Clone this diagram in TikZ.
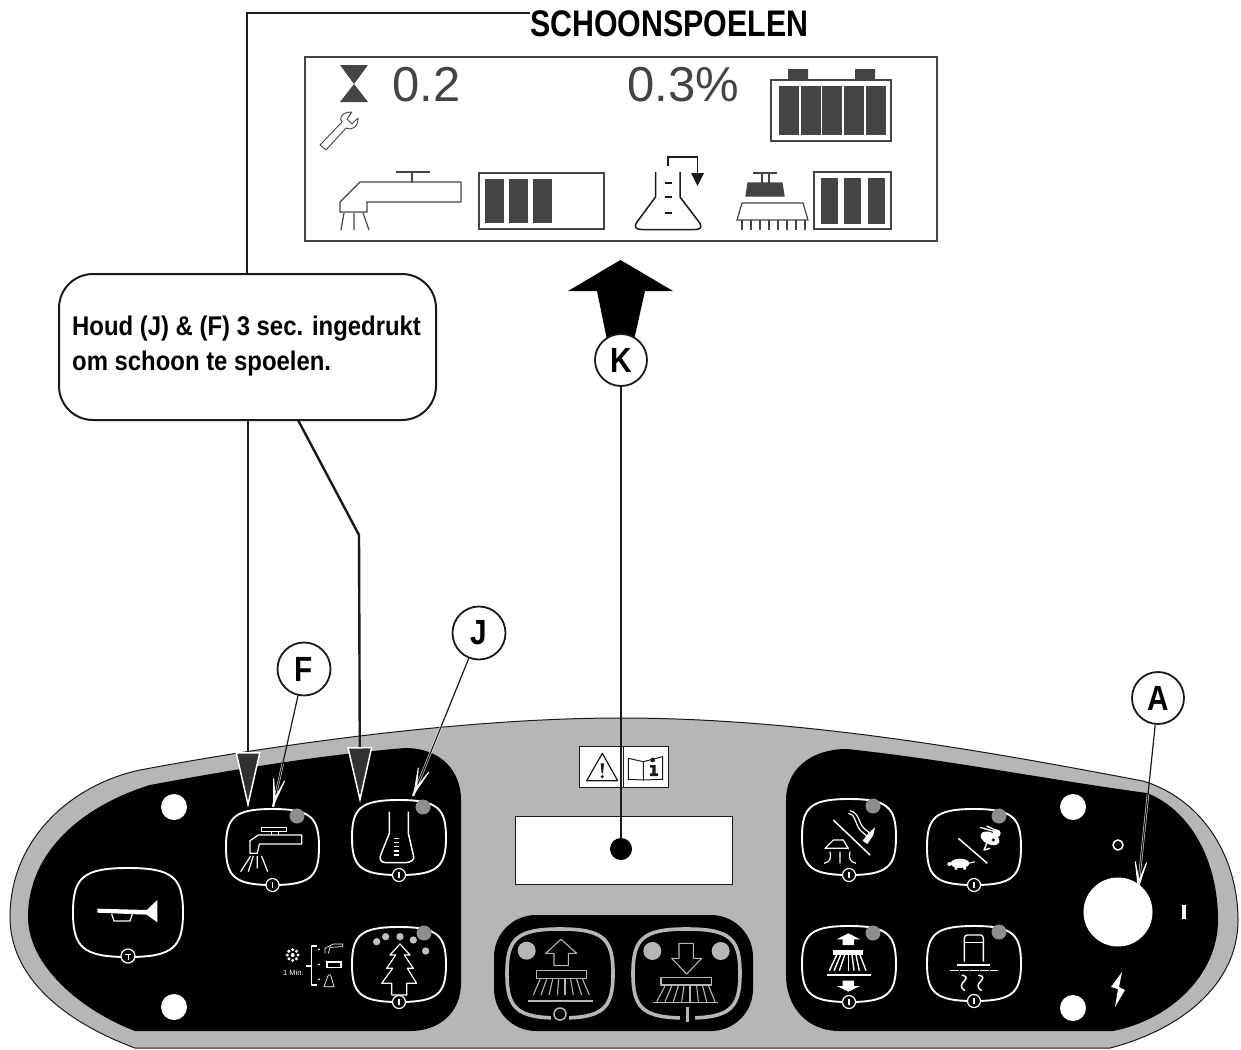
\documentclass[tikz,border=0pt]{standalone}
\usepackage{fontspec}
\setmainfont{Liberation Sans}
\newfontfamily\narrowfont[BoldFeatures={FakeStretch=0.82}]{Liberation Sans}
\newfontfamily\calloutfont[BoldFeatures={FakeStretch=0.885}]{Liberation Sans}
\newfontfamily\letterfont[BoldFeatures={FakeStretch=0.85}]{Liberation Sans}
\usetikzlibrary{arrows.meta,calc}
\definecolor{panelgray}{HTML}{B6B6B6}
\definecolor{ledgray}{HTML}{8E8E8E}
\definecolor{lcd}{HTML}{444444}
\definecolor{ink}{HTML}{1A1A1A}
\tikzset{
  conn/.style={draw=ink,line width=2.4pt},
  bigtip/.style={-{Triangle[length=56pt,width=25pt,fill=ink!90,color=white,line width=1.5pt]}},
  halo/.style={draw=white,line width=2.4pt,opacity=.85},
  leader/.style={draw=ink,line width=1.2pt},
  opentip/.style={-{Stealth[length=41pt,width=18pt,inset=30pt,open,color=white,line width=1pt]}},
  letter/.style={circle,draw=ink,fill=white,line width=1.8pt,minimum size=53pt,inner sep=0pt,font=\letterfont\bfseries\fontsize{35}{35}\selectfont},
  ico/.style={draw=white,line width=1.2pt,line join=round},
  lcdl/.style={draw=lcd,line width=1.2pt},
  readout/.style={inner sep=0pt,text=lcd,font=\fontsize{49}{49}\selectfont},
}
% squircle button: x1 y1 x2 y2, colour, width
\newcommand{\squircle}[6]{%
  \pgfmathsetmacro{\cxx}{(#1+#3)/2}\pgfmathsetmacro{\cyy}{(#2+#4)/2}%
  \pgfmathsetmacro{\wxx}{#3-#1}\pgfmathsetmacro{\hyy}{#4-#2}%
  \draw[draw=#5,line width=#6]
    (\cxx,#2) .. controls (#3-0.09*\wxx,#2) and (#3,#2+0.11*\hyy) .. (#3,\cyy)
    .. controls (#3,#4-0.11*\hyy) and (#3-0.09*\wxx,#4) .. (\cxx,#4)
    .. controls (#1+0.09*\wxx,#4) and (#1,#4-0.11*\hyy) .. (#1,\cyy)
    .. controls (#1,#2+0.11*\hyy) and (#1+0.09*\wxx,#2) .. (\cxx,#2) -- cycle;}
% button with LED: x1 y1 x2 y2 ledx ledy
\newcommand{\btnled}[6]{%
  \squircle{#1}{#2}{#3}{#4}{white}{1.9pt}%
  \pgfmathsetmacro{\cxx}{(#1+#3)/2}%
  \fill[ledgray] (#5,#6) circle (7.5);
  \draw[white,fill=black,line width=1.2pt] (\cxx,#4) circle (6.5);
  \draw[white,line width=1.2pt] (\cxx,#4-3) -- (\cxx,#4+3);}
\begin{document}
\begin{tikzpicture}[x=1pt,y=-1pt]
\useasboundingbox (0,0) rectangle (1241,1049);
\fill[white] (0,0) rectangle (1241,1049);

% ---------- panel
\draw[fill=panelgray,draw=ink,line width=1pt]
  (135,1048) .. controls (60,1020) and (10,975) .. (10,917)
  .. controls (10,840) and (70,785) .. (140,770)
  .. controls (300,740) and (480,718) .. (620,718)
  .. controls (800,718) and (980,750) .. (1143,781)
  .. controls (1205,800) and (1238,860) .. (1238,920)
  .. controls (1238,985) and (1180,1030) .. (1110,1048) -- cycle;
% black regions
\fill[black]
  (135,1031) .. controls (80,1010) and (28,965) .. (28,917)
  .. controls (28,850) and (85,805) .. (150,785)
  .. controls (230,770) and (320,755) .. (405,748)
  .. controls (440,748) and (461,770) .. (461,800)
  -- (461,983) .. controls (461,1012) and (440,1031) .. (410,1031) -- cycle;
\fill[black]
  (786,800) .. controls (786,770) and (810,749) .. (847,749)
  .. controls (950,760) and (1050,780) .. (1147,793)
  .. controls (1190,810) and (1218,860) .. (1218,920)
  .. controls (1218,975) and (1170,1020) .. (1113,1031)
  -- (840,1031) .. controls (805,1031) and (786,1005) .. (786,975) -- cycle;
\fill[black,rounded corners=42] (494,915) rectangle (753,1031);

% screw holes and key switch
\foreach \hx/\hy in {174/807,174/1007,1073/807,1073/1008} \fill[white] (\hx,\hy) circle (13);
\fill[white] (1118,912) circle (34.5);
\draw[white,line width=1.5pt] (1118,845) circle (5);
\fill[white] (1182,905) rectangle (1186,919);
\fill[white] (1122,972) -- (1111,987) -- (1118,989) -- (1115,1007) -- (1125,990) -- (1119,987) -- cycle;

% warning pictogram and display window
\begin{scope}[shift={(480,720)},scale=1/3]
  \draw[fill=white,draw=ink,line width=1pt] (298,80) rectangle (565,203);
  \draw[draw=ink,line width=1pt] (430,80) -- (430,203);
  \draw[ink,line width=1.2pt,line join=round] (320,182) -- (367,100) -- (413,182) -- cycle;
  \fill[ink] (362,130) -- (372,130) -- (369,160) -- (365,160) -- cycle;
  \fill[ink] (367,170) circle (5);
  \draw[ink,line width=1pt] (445,115) -- (490,125) -- (490,180) -- (445,178) -- cycle;
  \draw[ink,line width=1pt] (490,125) -- (548,110) -- (548,178) -- (490,180);
  \fill[ink] (518,120) circle (7);
  \fill[ink] (510,135) -- (527,135) -- (527,160) -- (534,160) -- (534,168) -- (510,168) -- (510,160) -- (517,160) -- (517,143) -- (510,143) -- cycle;
  \draw[fill=white,draw=ink,line width=1pt] (107,290) rectangle (757,493);
\end{scope}

% ---------- left buttons
\squircle{73}{868}{183}{957}{white}{1.9pt}
\draw[white,fill=black,line width=1.2pt] (128,956) circle (7);
\draw[white,line width=1pt] (125,954) -- (131,954) (128,954) -- (128,960);
\btnled{226}{809}{319}{885}{297}{816}
\btnled{352}{800}{446}{875}{423}{807}
\btnled{352}{927}{446}{1002}{424}{933}
\begin{scope}[shift={(0,720)},scale=1/3]
  % horn
  \fill[white] (292,566) -- (440,570) -- (472,540) -- (472,607) -- (440,584) -- (292,578) -- cycle;
  \draw[ico] (335,582) -- (342,603) -- (390,603) -- (397,582);
  % tap
  \draw[ico] (750,400) -- (750,362) -- (775,345) -- (905,345) -- (905,372) -- (778,372) -- (772,400) -- cycle;
  \draw[ico] (785,323) -- (860,323) -- (860,335) -- (785,335) -- cycle (815,335) -- (815,345) (835,335) -- (835,345);
  \draw[ico] (752,408) -- (722,455) (760,408) -- (745,455) (772,408) -- (772,445) (785,408) -- (803,455);
  % flask
  \draw[ico,line width=1.5pt] (1168,275) -- (1168,340) -- (1142,405) .. controls (1136,425) and (1150,428) .. (1160,428) -- (1210,428) .. controls (1235,428) and (1245,420) .. (1240,405) -- (1225,340) -- (1225,275);
  \foreach \ty in {355,368,380,393,405} \draw[ico] (1182,\ty) -- (1197,\ty);
  % tree
  \draw[ico] (1200,672) -- (1230,705) -- (1213,705) -- (1240,745) -- (1222,745) -- (1250,790) -- (1220,790) -- (1220,825) -- (1175,825) -- (1175,790) -- (1145,790) -- (1178,745) -- (1160,745) -- (1187,705) -- (1170,705) -- cycle;
  \foreach \dx/\dy in {1130/665,1157/650,1200/650,1240/660,1277/693} \fill[white!75!black] (\dx,\dy) circle (11);
  % pre-heat legend
  \foreach \a in {0,45,...,315} \fill[white] ($(878,705)+(\a:16)$) circle (5);
  \fill[white] (878,705) circle (6);
  \node (onemin) at (880,758) [inner sep=0pt,text=white,font=\fontsize{7.5}{8}\selectfont] {1 Min.};
  \draw[ico,line width=1.4pt] (950,678) -- (935,678) -- (935,795) -- (950,795) (918,738) -- (935,738);
  \draw[ico,line width=.7pt] (975,700) -- (975,685) -- (1000,672) -- (1028,672) -- (1028,680) -- (990,682) -- (985,700);
  \fill[white] (978,722) rectangle (1027,745);
  \fill[black] (984,730) rectangle (1021,740);
  \draw[ico,line width=.7pt] (985,765) -- (972,800) -- (1002,800) -- (992,765) -- cycle;
  \foreach \py in {688,733,778} \fill[white] (957,\py) circle (3);
\end{scope}

% ---------- centre buttons
\squircle{507}{929}{613}{1018}{panelgray}{3.6pt}
\squircle{633}{929}{740}{1018}{panelgray}{3.6pt}
\begin{scope}[shift={(480,720)},scale=1/3]
  \fill[black] (213,870) rectangle (267,900);
  \fill[black] (600,870) rectangle (645,910);
  \draw[panelgray,line width=1.5pt,fill=black] (240,882) circle (18);
  \draw[panelgray,line width=2.4pt] (622,860) -- (622,905);
  \foreach \lx/\ly in {140/692,517/693,722/693} \fill[panelgray] (\lx,\ly) circle (27);
  \tikzset{gl/.style={draw=panelgray,line width=1.1pt,line join=round}}
  \draw[gl] (243,658) -- (290,700) -- (265,700) -- (265,737) -- (222,737) -- (222,700) -- (197,700) -- cycle;
  \draw[gl] (170,752) rectangle (320,775);
  \foreach \bx/\tx in {180/160,200/183,218/207,236/232,255/255,272/280,290/305,308/328} \draw[gl] (\bx,778) -- (\tx,825);
  \draw[gl] (145,843) -- (340,843);
  \draw[gl] (597,670) -- (640,670) -- (640,715) -- (665,715) -- (620,762) -- (575,715) -- (597,715) -- cycle;
  \draw[gl] (543,772) rectangle (695,795);
  \foreach \bx/\tx in {555/530,575/555,595/580,612/605,630/630,650/655,668/680,686/705} \draw[gl] (\bx,798) -- (\tx,845);
  \draw[gl] (520,848) -- (715,848);
\end{scope}

% ---------- right buttons
\btnled{802}{799}{896}{875}{873}{806}
\btnled{927}{809}{1021}{885}{999}{816}
\btnled{802}{926}{896}{1002}{873}{933}
\btnled{927}{926}{1021}{1001}{999}{932}
\begin{scope}[shift={(780,720)},scale=1/3]
  % vacuum off
  \draw[ico,line width=1.5pt] (160,300) -- (270,405);
  \draw[ico] (205,280) .. controls (225,280) and (225,310) .. (240,330) -- (262,350);
  \draw[ico] (210,272) .. controls (240,280) and (235,310) .. (252,325) -- (268,338);
  \fill[white] (285,322) -- (280,345) -- (262,372) -- (248,362) -- (265,340) -- cycle;
  \draw[ico] (160,360) -- (190,360) -- (205,385) -- (135,385) -- cycle;
  \draw[ico] (150,395) .. controls (155,415) and (150,425) .. (132,430) (180,395) -- (180,430) (210,395) .. controls (205,415) and (210,425) .. (228,430);
  % speed: hare and tortoise
  \draw[ico,line width=1.5pt] (535,355) -- (622,430);
  \fill[white,rotate around={-25:(630,355)}] (630,355) ellipse (30 and 18);
  \fill[white] (650,340) circle (12);
  \draw[ico,line width=1.4pt] (645,335) -- (600,322) (650,332) -- (620,318);
  \draw[ico,line width=1.4pt] (620,370) -- (612,390) -- (630,385);
  \fill[black] (640,360) circle (5);
  \fill[white] (540,430) ellipse (28 and 14);
  \fill[white] (508,432) circle (6);
  \fill[white] (524,438) rectangle (532,449) (550,438) rectangle (558,449);
  \draw[ico,line width=1pt] (565,430) -- (585,425);
  % brush up/down
  \fill[white] (205,640) -- (240,658) -- (222,658) -- (222,675) -- (188,675) -- (188,658) -- (170,658) -- cycle;
  \fill[white] (160,690) rectangle (250,705);
  \foreach \bx/\tx in {170/148,182/162,194/178,205/205,216/222,228/238,240/258} \draw[white,line width=1.4pt] (\bx,705) -- (\tx,752);
  \draw[white,line width=1.4pt] (140,765) -- (272,765);
  \fill[white] (188,782) -- (222,782) -- (222,798) -- (240,798) -- (205,815) -- (170,798) -- (188,798) -- cycle;
  % squeegee
  \draw[ico,line width=1.4pt,rounded corners=3pt] (553,725) -- (553,645) -- (610,645) -- (610,725);
  \draw[ico] (553,668) -- (610,668);
  \draw[ico,line width=1.5pt] (530,735) -- (630,735);
  \draw[ico,line width=1.4pt,dash pattern=on 9pt off 1pt] (510,752) -- (655,752);
  \foreach \sx in {550,600} \draw[ico,line width=1.5pt] (\sx-5,765) .. controls (\sx+35,775) and (\sx-30,790) .. (\sx+5,812);
\end{scope}

% ---------- LCD screen
\draw[draw=lcd,line width=1.5pt] (305,57) rectangle (937,241);
\fill[lcd] (340,65) -- (368,65) -- (354,84) -- (368,102) -- (340,102) -- (354,84) -- cycle;
\node (timeval) at (392,101) [readout,anchor=base west] {0.2};
\node (pctval) at (627,101) [readout,anchor=base west] {0.3\%};
% wrench
\draw[lcdl,line width=.9pt,line join=round] (320,145) -- (342,122) .. controls (338,116) and (344,112) .. (352,112) -- (347,119) -- (352,124) -- (358,118) .. controls (358,127) and (352,131) .. (346,128) -- (326,150) -- cycle;
% battery
\draw[lcdl] (771,80) rectangle (891,141);
\fill[lcd] (788,69) rectangle (808,80) (855,69) rectangle (875,80);
\foreach \cx in {779,801,822,844,866} \fill[lcd] (\cx,86) rectangle +(19.5,49);
% tap
\draw[lcdl] (340,212) -- (340,202) -- (360,182) -- (461,182) -- (461,202) -- (367,202) -- (367,212) -- cycle;
\draw[lcdl] (396,172) -- (430,172) (412,172) -- (412,182);
\draw[lcdl] (344,213) -- (341,230) (354,213) -- (354,230) (363,213) -- (369,230);
% bars
\draw[lcdl] (479,173) rectangle (604,229);
\foreach \cx in {485,509,533} \fill[lcd] (\cx,179) rectangle +(19,44);
\draw[lcdl] (814,172) rectangle (891,229);
\foreach \cx in {821,844,868} \fill[lcd] (\cx,178) rectangle +(17,46);
% flask with arrow
\draw[ink,line width=1.5pt,line join=round] (655.5,172) -- (655.5,197) -- (637,222) .. controls (633,228) and (637,229.5) .. (642,229.5) -- (695,229.5) .. controls (700,229.5) and (703,228) .. (699,222) -- (680,197) -- (680,172);
\foreach \ty in {183,197,213} \draw[ink,line width=1.6pt] (665,\ty) -- (672,\ty);
\draw[ink,line width=1.5pt] (668,166) -- (668,157) -- (697.5,157) -- (697.5,175);
\fill[ink] (691,173) -- (704,173) -- (697.5,186) -- cycle;
% brush
\draw[lcdl] (753,173) -- (777,173) (762,173) -- (762,183) (769,173) -- (769,183);
\draw[lcdl,fill=lcd] (748,183) -- (782,183) -- (784,196) -- (746,196) -- cycle;
\draw[lcdl] (742,203) -- (803,203) -- (808,220) -- (737,220) -- cycle;
\foreach \bx in {742,751,760,769,778,787,796,805} \draw[lcdl] (\bx,220) -- (\bx,230);

% ---------- big arrow to screen
\fill[black] (607,340) -- (597,291) -- (568,291) -- (620.5,260) -- (673,291) -- (645,291) -- (634,340) -- cycle;

% ---------- nodes
\node[letter,minimum size=52pt] (K) at (621,360) {K};
\node[letter] (F) at (304,669) {F};
\node[letter] (J) at (479,633) {J};
\node[letter,minimum size=52pt] (A) at (1158,698) {A};
\node[circle,fill=black,minimum size=22pt,inner sep=0pt] (kdot) at (621,849) {};
\node[anchor=base west,inner sep=0pt,font=\narrowfont\bfseries\fontsize{37}{37}\selectfont] (title) at (530,37) {SCHOONSPOELEN};
\node[draw=ink,fill=white,line width=2pt,rounded corners=34pt,minimum width=377pt,minimum height=146pt,inner sep=0pt] (callout) at (247.5,347) {};
\node[anchor=north west,inner sep=0pt,align=left,font=\calloutfont\bfseries\fontsize{27}{35}\selectfont] (calltext) at (72,316) {Houd (J) \& (F) 3 sec. ingedrukt\\om schoon te spoelen.};

% ---------- connectors
\coordinate (corner) at (247,13);
\coordinate (toptap) at (247,274);
\coordinate (bottap) at (248,420);
\coordinate (botfl) at (298,420);
\coordinate (kneefl) at (359,535);
\coordinate (tiptap) at (248,808);
\coordinate (tipfl) at (360,803);
\coordinate (tipF) at (273,807);
\coordinate (tipJ) at (413,796);
\coordinate (tipA) at (1138,890);
\draw[conn,line width=2pt] (corner -| title.west) -- (corner) -- (toptap);
\draw[conn,bigtip] (bottap) -- (tiptap);
\draw[conn,bigtip,line join=round] (botfl) -- (kneefl) -- (tipfl);
\draw[conn,line width=1.6pt] (K.south) -- (kdot);
\draw[halo,shorten <=70pt] (F) -- (tipF);
\draw[halo,shorten <=70pt] (J) -- (tipJ);
\draw[halo,shorten <=70pt] (A) -- (tipA);
\draw[leader,opentip] (F) -- (tipF);
\draw[leader,opentip] (J) -- (tipJ);
\draw[leader,opentip] (A) -- (tipA);
\end{tikzpicture}
\end{document}
